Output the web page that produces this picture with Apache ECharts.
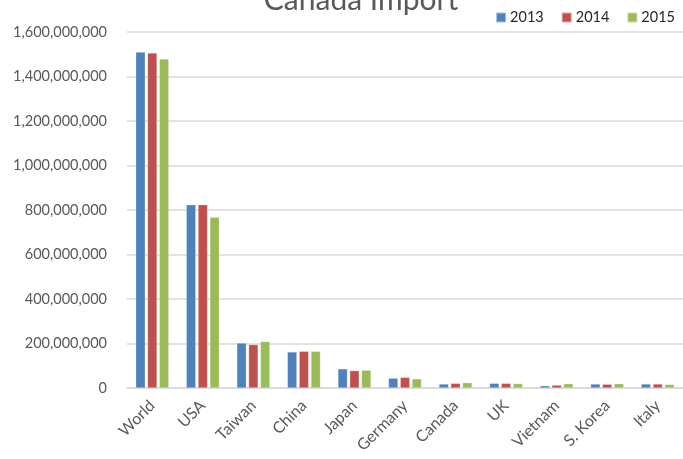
<!DOCTYPE html>
<html><head><meta charset="utf-8">
<script src="https://cdn.jsdelivr.net/npm/echarts@6/dist/echarts.min.js"></script>
<style>html,body{margin:0;padding:0;background:#fff}#c{width:683px;height:459px}</style>
</head><body><div id="c"></div>
<script>
const categories = ['World','USA','Taiwan','China','Japan','Germany','Canada','UK','Vietnam','S. Korea','Italy'];
const years = ['2013','2014','2015'];
const v2013 = [1510e6, 824e6, 202e6, 162e6, 86e6, 44e6, 18e6, 21e6, 10e6, 18e6, 18e6];
const v2014 = [1506e6, 824e6, 195e6, 165e6, 78e6, 48e6, 21e6, 21e6, 13e6, 17e6, 18e6];
const v2015 = [1479e6, 767e6, 209e6, 165e6, 80e6, 41e6, 24e6, 20e6, 19e6, 19e6, 16e6];
const yTicks = [0,200e6,400e6,600e6,800e6,1000e6,1200e6,1400e6,1600e6];
const colors = ['#4f81bd','#c0504d','#9bbb59'];
const seriesData = [v2013, v2014, v2015];
const chart = echarts.init(document.getElementById('c'));
chart.setOption({
  animation:false,
  title:{text:'Canada Import', left:356, textAlign:'center', top:-20,
    textStyle:{fontFamily:'Lato', fontSize:30, fontWeight:'normal', color:'#595959'}},
  legend:{data:years, right:3, top:5, itemWidth:10, itemHeight:10, itemGap:17,
    icon:'rect', textStyle:{fontFamily:'Lato', fontSize:14.5, color:'#262626', padding:[0,0,0,-1]}},
  grid:{left:127, right:-5, top:32, bottom:71, containLabel:false},
  xAxis:{type:'category', data:categories,
    axisLine:{lineStyle:{color:'#d9d9d9', width:1.5}}, axisTick:{show:false},
    axisLabel:{rotate:45, interval:0, fontFamily:'Lato', fontSize:16, color:'#595959', margin:15}},
  yAxis:{type:'value', min:0, max:1600e6, interval:200e6,
    axisLine:{show:false}, axisTick:{show:false},
    splitLine:{lineStyle:{color:'#d9d9d9', width:1.5}},
    axisLabel:{fontFamily:'Lato', fontSize:14.5, color:'#595959', margin:20,
      formatter:v=>yTicks.includes(v)?v.toLocaleString('en-US'):''}},
  series: years.map((y,i)=>({name:y, type:'bar', data:seriesData[i], barWidth:9.5, barGap:'24%',
    itemStyle:{color:colors[i], borderColor:'rgba(255,255,255,0.5)', borderWidth:0.5}}))
});
</script></body></html>
